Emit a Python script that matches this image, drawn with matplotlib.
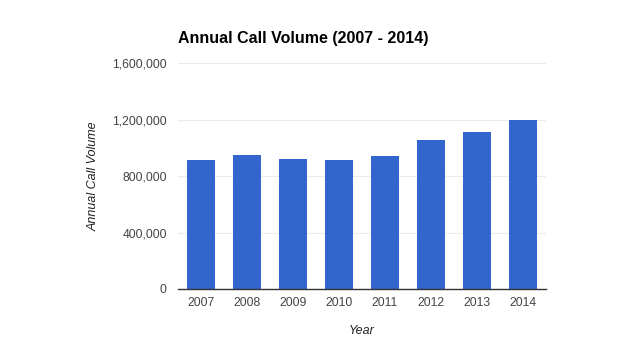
import matplotlib.pyplot as plt
from matplotlib.ticker import FuncFormatter

years = ['2007', '2008', '2009', '2010', '2011', '2012', '2013', '2014']
calls = [913000, 949000, 920000, 913000, 942000, 1053000, 1109000, 1199000]
y_ticks = [0, 400000, 800000, 1200000, 1600000]

plt.rcParams['font.family'] = ['Liberation Sans', 'DejaVu Sans']

fig = plt.figure(figsize=(6.4, 3.63), dpi=100)
ax = fig.add_axes([0.278, 0.204, 0.575, 0.622])

x = range(len(years))
ax.bar(x, calls, width=0.61, color='#3366cc', zorder=3)

ax.set_xlim(-0.5, len(years) - 0.5)
ax.set_ylim(0, 1600000)
ax.set_yticks(y_ticks)
ax.yaxis.set_major_formatter(FuncFormatter(lambda v, p: f'{int(v):,}'))
ax.set_xticks(list(x))
ax.set_xticklabels(years)

ax.grid(axis='y', color='#ebebeb', linewidth=0.8, zorder=0)
for s in ['top', 'right', 'left']:
    ax.spines[s].set_visible(False)
ax.spines['bottom'].set_color('#333333')
ax.spines['bottom'].set_linewidth(1)
ax.spines['bottom'].set_zorder(4)
ax.tick_params(axis='both', length=0, labelsize=8.7, colors='#444444')
ax.tick_params(axis='y', pad=8)
ax.tick_params(axis='x', pad=6)

ax.set_ylabel('Annual Call Volume', fontsize=9, style='italic', color='#222222', labelpad=9)
ax.set_xlabel('Year', fontsize=9, style='italic', color='#222222', labelpad=11)

fig.text(0.278, 0.895, 'Annual Call Volume (2007 - 2014)', fontsize=11.5,
         fontweight='bold', color='#000000', ha='left', va='center')

fig.savefig('out.png', dpi=100)
